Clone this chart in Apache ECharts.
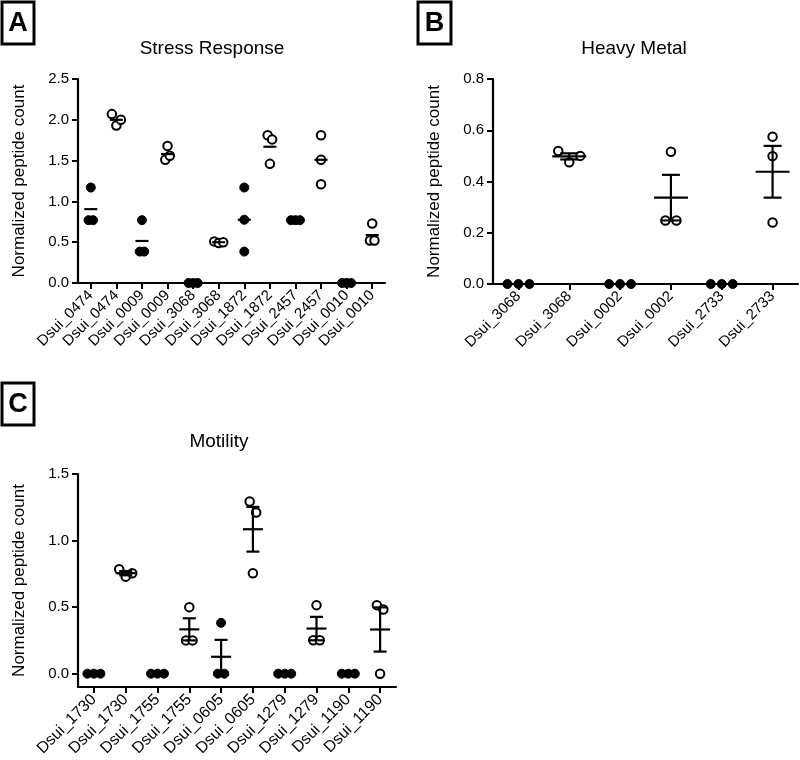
<!DOCTYPE html>
<html>
<head>
<meta charset="utf-8">
<script src="https://cdn.jsdelivr.net/npm/echarts@6/dist/echarts.min.js"></script>
<style>html,body{margin:0;padding:0;background:#fff;}#main{width:800px;height:760px;}</style>
</head>
<body>
<div id="main"></div>
<script>
// ---------- Data ----------
const catsA = ['Dsui_0474','Dsui_0474','Dsui_0009','Dsui_0009','Dsui_3068','Dsui_3068','Dsui_1872','Dsui_1872','Dsui_2457','Dsui_2457','Dsui_0010','Dsui_0010'];
const aRep1 = [1.17, 2.07, 0.77, 1.51, 0, 0.51, 1.17, 1.81, 0.77, 1.81, 0, 0.52];
const aRep2 = [0.77, 1.93, 0.385, 1.68, 0, 0.49, 0.775, 1.76, 0.77, 1.51, 0, 0.73];
const aRep3 = [0.77, 2.00, 0.385, 1.56, 0, 0.50, 0.385, 1.46, 0.77, 1.21, 0, 0.52];
const aMean = [0.905, 2.00, 0.515, 1.58, 0, 0.50, 0.775, 1.67, 0.77, 1.51, 0, 0.587];

const catsB = ['Dsui_3068','Dsui_3068','Dsui_0002','Dsui_0002','Dsui_2733','Dsui_2733'];
const bRep1 = [0, 0.519, 0, 0.248, 0, 0.575];
const bRep2 = [0, 0.475, 0, 0.516, 0, 0.499];
const bRep3 = [0, 0.500, 0, 0.248, 0, 0.240];
const bMean = [0, 0.498, 0, 0.337, 0, 0.438];
const bSem  = [0, 0.012, 0, 0.089, 0, 0.101];

const catsC = ['Dsui_1730','Dsui_1730','Dsui_1755','Dsui_1755','Dsui_0605','Dsui_0605','Dsui_1279','Dsui_1279','Dsui_1190','Dsui_1190'];
const cRep1 = [0, 0.784, 0, 0.25, 0.382, 1.294, 0, 0.251, 0, 0.515];
const cRep2 = [0, 0.729, 0, 0.50, 0,     1.211, 0, 0.515, 0, 0.482];
const cRep3 = [0, 0.754, 0, 0.25, 0,     0.754, 0, 0.251, 0, 0];
const cMean = [0, 0.755, 0, 0.333, 0.127, 1.085, 0, 0.339, 0, 0.332];
const cSem  = [0, 0.016, 0, 0.083, 0.127, 0.168, 0, 0.088, 0, 0.166];

const yTicksA = [0, 0.5, 1.0, 1.5, 2.0, 2.5];
const yTicksB = [0, 0.2, 0.4, 0.6, 0.8];
const yTicksC = [0, 0.5, 1.0, 1.5];

const titles = ['Stress Response', 'Heavy Metal', 'Motility'];
const panelLetters = ['A', 'B', 'C'];
const yName = 'Normalized peptide count';

// ---------- Layout / style ----------
const FONT = 'Liberation Sans';
const grids = [
  {left: 78, top: 79, width: 307, height: 204},
  {left: 493, top: 79, width: 305, height: 205},
  {left: 78, top: 474, width: 318, height: 213}
];
const yRanges = [[0, 2.5], [0, 0.8], [-0.1, 1.5]];
const xLabelSize = [15, 15, 16];
const panels = [
  {cats: catsA, reps: [aRep1, aRep2, aRep3], mean: aMean, sem: null, ticks: yTicksA, thrPx: 9, spread: 4.5, meanW: 13, capW: 0, sym: 9},
  {cats: catsB, reps: [bRep1, bRep2, bRep3], mean: bMean, sem: bSem, ticks: yTicksB, thrPx: 9, spread: 11, meanW: 34, capW: 18, sym: 9},
  {cats: catsC, reps: [cRep1, cRep2, cRep3], mean: cMean, sem: cSem, ticks: yTicksC, thrPx: 12, spread: 6.5, meanW: 20, capW: 13, sym: 9}
];

function jitter(vals, thr, spread) {
  const idx = vals.map((v, i) => i).sort((a, b) => vals[a] - vals[b] || a - b);
  const clusters = [];
  let cur = [idx[0]];
  for (let k = 1; k < idx.length; k++) {
    if (vals[idx[k]] - vals[idx[k - 1]] < thr) cur.push(idx[k]);
    else { clusters.push(cur); cur = [idx[k]]; }
  }
  clusters.push(cur);
  const off = new Array(vals.length).fill(0);
  clusters.forEach(c => {
    c.sort((a, b) => a - b);
    c.forEach((i, j) => { off[i] = (j - (c.length - 1) / 2) * spread; });
  });
  return off;
}

const series = [];
panels.forEach((p, pi) => {
  const pxPerUnit = grids[pi].height / (yRanges[pi][1] - yRanges[pi][0]);
  const thr = p.thrPx / pxPerUnit;
  const filled = [], open = [];
  p.cats.forEach((c, ci) => {
    const vals = p.reps.map(r => r[ci]);
    const off = jitter(vals, thr, p.spread);
    vals.forEach((v, k) => {
      const item = {value: [ci, v], symbolOffset: [off[k], 0]};
      (ci % 2 === 0 ? filled : open).push(item);
    });
  });
  series.push({
    type: 'scatter', xAxisIndex: pi, yAxisIndex: pi, data: filled,
    symbol: 'circle', symbolSize: p.sym, z: 3,
    itemStyle: {color: '#000', borderColor: '#000', borderWidth: 1, opacity: 1}
  });
  series.push({
    type: 'scatter', xAxisIndex: pi, yAxisIndex: pi, data: open,
    symbol: 'circle', symbolSize: p.sym - 0.5, z: 3,
    itemStyle: {color: '#fff', borderColor: '#000', borderWidth: 2, opacity: 1}
  });
  const meanData = p.cats.map((c, ci) => [ci, p.mean[ci], p.sem ? p.sem[ci] : 0]);
  series.push({
    type: 'custom', xAxisIndex: pi, yAxisIndex: pi, z: 5,
    data: meanData,
    encode: {x: 0, y: 1},
    renderItem: function (params, api) {
      const x = api.value(0), m = api.value(1), s = api.value(2);
      const c = api.coord([x, m]);
      const st = {stroke: '#000', lineWidth: 2.2, fill: null};
      const children = [{type: 'line', shape: {x1: c[0] - p.meanW / 2, y1: c[1], x2: c[0] + p.meanW / 2, y2: c[1]}, style: st}];
      if (s > 0) {
        const t = api.coord([x, m + s]);
        const b = api.coord([x, Math.max(m - s, yRanges[pi][0])]);
        children.push({type: 'line', shape: {x1: c[0], y1: t[1], x2: c[0], y2: b[1]}, style: st});
        children.push({type: 'line', shape: {x1: c[0] - p.capW / 2, y1: t[1], x2: c[0] + p.capW / 2, y2: t[1]}, style: st});
        children.push({type: 'line', shape: {x1: c[0] - p.capW / 2, y1: b[1], x2: c[0] + p.capW / 2, y2: b[1]}, style: st});
      }
      return {type: 'group', children: children};
    }
  });
});

const xAxes = panels.map((p, pi) => ({
  gridIndex: pi, type: 'category', data: p.cats, boundaryGap: true,
  axisLine: {show: true, onZero: false, lineStyle: {color: '#000', width: 2.2}},
  axisTick: {show: true, alignWithLabel: true, length: 6, lineStyle: {color: '#000', width: 2}},
  axisLabel: {rotate: 45, interval: 0, fontSize: xLabelSize[pi], color: '#000', fontFamily: FONT, margin: 10},
  splitLine: {show: false}
}));

const yAxes = panels.map((p, pi) => ({
  gridIndex: pi, type: 'value',
  min: yRanges[pi][0], max: yRanges[pi][1],
  interval: pi === 0 ? 0.5 : (pi === 1 ? 0.2 : undefined),
  name: yName, nameLocation: 'middle', nameGap: 50,
  nameTextStyle: {fontSize: 17, color: '#000', fontFamily: FONT},
  axisLine: {show: true, onZero: false, lineStyle: {color: '#000', width: 2.2}},
  axisTick: {show: true, length: 6, lineStyle: {color: '#000', width: 2}, customValues: pi === 2 ? p.ticks : undefined},
  axisLabel: {fontSize: 15, color: '#000', fontFamily: FONT, margin: 9,
    customValues: pi === 2 ? p.ticks : undefined,
    formatter: v => v.toFixed(1)},
  splitLine: {show: false}
}));

const titlePos = [[207, 34], [629, 34], [214, 427]];
const boxes = [[2, 2, 32, 42], [418, 2, 33, 42], [2, 383, 32, 42]];

const graphics = [];
boxes.forEach((b, i) => {
  graphics.push({type: 'rect', shape: {x: b[0], y: b[1], width: b[2], height: b[3]},
    style: {fill: '#fff', stroke: '#000', lineWidth: 3}, z: 10});
  graphics.push({type: 'text', x: b[0] + b[2] / 2, y: b[1] + b[3] / 2 + 1, z: 11,
    style: {text: panelLetters[i], font: 'bold 27px ' + FONT, fill: '#000', align: 'center', verticalAlign: 'middle'}});
});

const option = {
  animation: false,
  backgroundColor: '#fff',
  title: titles.map((t, i) => ({
    text: t, left: titlePos[i][0], top: titlePos[i][1], textAlign: 'center',
    textStyle: {fontSize: 19, fontWeight: 'normal', color: '#000', fontFamily: FONT}
  })),
  graphic: graphics,
  grid: grids,
  xAxis: xAxes,
  yAxis: yAxes,
  series: series
};

const chart = echarts.init(document.getElementById('main'), null, {renderer: 'canvas'});
chart.setOption(option);
</script>
</body>
</html>
